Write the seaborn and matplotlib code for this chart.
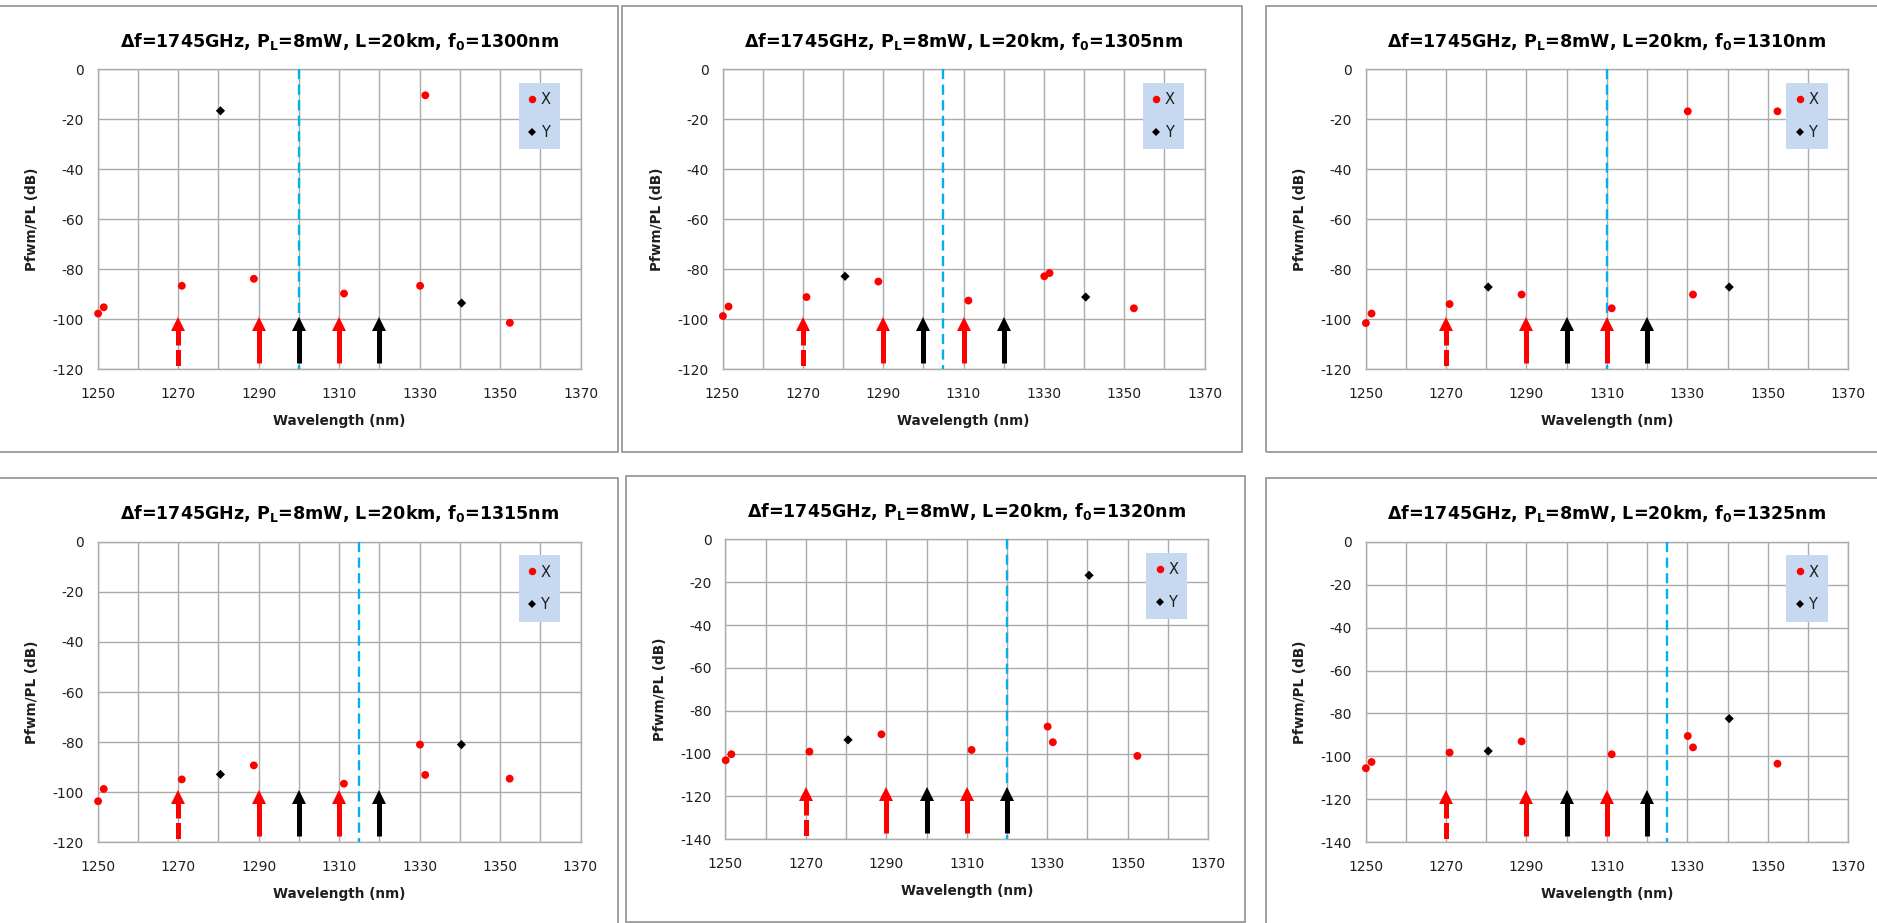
import matplotlib
matplotlib.use("Agg")
import matplotlib.pyplot as plt
import matplotlib.transforms as mtransforms
from matplotlib.patches import Rectangle
from matplotlib.lines import Line2D
import pandas as pd
import seaborn as sns

# ---------------------------------------------------------------------------
# Data
# ---------------------------------------------------------------------------
# Wavelengths (nm) of the generated FWM products, per polarisation
X_WAVELENGTHS = [1250.1, 1251.5, 1270.9, 1288.8, 1311.2, 1330.1, 1331.4, 1352.4]
Y_WAVELENGTHS = [1280.5, 1340.4]

# Zero-dispersion wavelength f0 (nm) of each case
F0_VALUES = [1300, 1305, 1310, 1315, 1320, 1325]

# Normalised FWM power Pfwm/PL (dB), one row per f0 case
X_POWER = [
    [-97.7, -95.2, -86.6, -83.8, -89.7, -86.6, -10.4, -101.4],
    [-98.7, -94.9, -91.1, -84.9, -92.5, -82.8, -81.5, -95.6],
    [-101.5, -97.7, -93.9, -90.1, -95.6, -16.8, -90.1, -16.8],
    [-103.6, -98.7, -94.9, -89.3, -96.6, -81.0, -93.1, -94.6],
    [-103.1, -100.3, -99.1, -91.0, -98.3, -87.4, -94.7, -101.1],
    [-105.5, -102.6, -98.2, -93.0, -99.0, -90.5, -95.8, -103.4],
]
Y_POWER = [
    [-16.6, -93.5],
    [-82.8, -91.1],
    [-87.1, -87.1],
    [-92.9, -81.0],
    [-93.6, -16.8],
    [-97.5, -82.4],
]

# Lower limit of the power axis for each case
Y_MIN = [-120, -120, -120, -120, -140, -140]

# Pump channels: wavelength (nm), polarisation, dashed = unmodulated pump
PUMP_WAVELENGTHS = [1270, 1290, 1300, 1310, 1320]
PUMP_POLARISATION = ["X", "X", "Y", "X", "Y"]
PUMP_DASHED = [True, False, False, False, False]

X_TICKS = [1250, 1270, 1290, 1310, 1330, 1350, 1370]
X_MINOR = [1260, 1280, 1300, 1320, 1340, 1360]

TITLE_PARAMS = r"Δf=1745GHz, P$_\mathregular{L}$=8mW, L=20km, f$_\mathregular{0}$="
X_LABEL = "Wavelength (nm)"
Y_LABEL = "Pfwm/PL (dB)"

SERIES_COLORS = {"X": "#ff0000", "Y": "#000000"}
SERIES_MARKERS = {"X": "o", "Y": "D"}

# ---------------------------------------------------------------------------
# Styling
# ---------------------------------------------------------------------------
sns.set_theme(style="white")
plt.rcParams["font.family"] = ["DejaVu Sans"]
plt.rcParams["axes.unicode_minus"] = False
plt.rcParams["mathtext.fontset"] = "custom"
plt.rcParams["mathtext.rm"] = "DejaVu Sans:bold"
plt.rcParams["mathtext.it"] = "DejaVu Sans:bold"
plt.rcParams["mathtext.bf"] = "DejaVu Sans:bold"

W, H = 1877, 923
fig = plt.figure(figsize=(W / 100, H / 100), dpi=100)
fig.patch.set_facecolor("white")

# plot area (left, top, right, bottom) and panel frame in pixels
PLOT_BOXES = [
    (97.7, 69.3, 580.7, 369.3),
    (722.5, 69.3, 1204.6, 369.3),
    (1365.5, 69.3, 1848.3, 369.3),
    (97.7, 541.7, 580.5, 842.3),
    (725.3, 539.3, 1208.2, 839.3),
    (1365.5, 541.7, 1848.3, 842.3),
]
FRAME_BOXES = [
    (-3, 5.7, 618, 452),
    (622, 5.7, 1242, 452),
    (1265.6, 5.7, 1895, 452),
    (-3, 477.7, 618, 935),
    (626, 475.7, 1245, 921.5),
    (1265.6, 477.7, 1895, 935),
]

GRID_COLOR = "#ababab"
TEXT_COLOR = "#1f1f1f"

for (fl, ft, fr, fb) in FRAME_BOXES:
    fig.patches.append(
        Rectangle((fl / W, 1 - fb / H), (fr - fl) / W, (fb - ft) / H,
                  transform=fig.transFigure, fill=False,
                  edgecolor="#999999", linewidth=1.3, zorder=0)
    )

for i, (l, t, r, b) in enumerate(PLOT_BOXES):
    ax = fig.add_axes([l / W, 1 - b / H, (r - l) / W, (b - t) / H])
    ax.set_facecolor("white")
    ymin = Y_MIN[i]
    f0 = F0_VALUES[i]
    ax_h = b - t
    ax_w = r - l

    df = pd.DataFrame({
        "wavelength": X_WAVELENGTHS + Y_WAVELENGTHS,
        "power": X_POWER[i] + Y_POWER[i],
        "series": ["X"] * len(X_WAVELENGTHS) + ["Y"] * len(Y_WAVELENGTHS),
    })
    sns.scatterplot(
        data=df, x="wavelength", y="power", hue="series", style="series",
        size="series", sizes={"X": 32, "Y": 22},
        palette=SERIES_COLORS, markers=SERIES_MARKERS,
        linewidth=0, legend=False, ax=ax, zorder=6, clip_on=False,
    )

    # zero-dispersion wavelength marker
    ax.plot([f0, f0], [0, ymin], color="#00b0f0", lw=1.7,
            linestyle=(0, (4.3, 2.3)), dash_capstyle="butt",
            clip_on=False, zorder=3)

    # pump arrows: x in data units, height as a fraction of the axes
    trans = mtransforms.blended_transform_factory(ax.transData, ax.transAxes)
    for wl, pol, dashed in zip(PUMP_WAVELENGTHS, PUMP_POLARISATION, PUMP_DASHED):
        c = SERIES_COLORS[pol]
        if dashed:
            # dash pattern starts just below the arrow head
            ax.plot([wl, wl], [0.135, -0.003], transform=trans, color=c, lw=3.6,
                    linestyle=(0, (3.2, 0.9)), dash_capstyle="butt",
                    clip_on=False, zorder=4)
        else:
            ax.plot([wl, wl], [0.02, 0.14], transform=trans, color=c, lw=3.6,
                    solid_capstyle="butt", clip_on=False, zorder=4)
        ax.plot([wl], [0.152], transform=trans, marker="^", ms=9.5,
                color=c, mew=0, linestyle="none", clip_on=False, zorder=4)

    ax.set_xlim(1250, 1370)
    ax.set_ylim(ymin, 0)
    ax.set_xticks(X_TICKS)
    ax.set_xticks(X_MINOR, minor=True)
    ax.set_yticks(list(range(ymin, 1, 20)))
    ax.set_xticklabels([str(v) for v in X_TICKS])
    ax.set_yticklabels([str(v) for v in range(ymin, 1, 20)])
    ax.grid(True, which="both", color=GRID_COLOR, linewidth=1.0, zorder=0)
    ax.set_axisbelow(True)
    for sp in ax.spines.values():
        sp.set_color(GRID_COLOR)
        sp.set_linewidth(1.0)
    ax.tick_params(axis="both", which="both", length=0, labelsize=10,
                   colors=TEXT_COLOR)
    ax.tick_params(axis="x", pad=13)
    ax.tick_params(axis="y", pad=9.9)

    ax.set_xlabel(X_LABEL, fontsize=9.8, fontweight="bold", color=TEXT_COLOR)
    ax.set_ylabel(Y_LABEL, fontsize=9.8, fontweight="bold", color=TEXT_COLOR)
    ax.xaxis.set_label_coords(0.5, -(425 - 369.3) / ax_h)
    ax.xaxis.label.set_va("baseline")
    ax.yaxis.set_label_coords(-(97.7 - 32.4) / ax_w, 0.5)
    ax.yaxis.label.set_va("center")

    ax.text(0.5, 1 + 22.6 / ax_h, TITLE_PARAMS + f"{f0}nm",
            transform=ax.transAxes, ha="center", va="baseline",
            fontsize=12.6, fontweight="bold", color="#000000")

    handles = [
        Line2D([], [], linestyle="none", marker="o", color=SERIES_COLORS["X"],
               ms=5.4, mew=0),
        Line2D([], [], linestyle="none", marker="D", color=SERIES_COLORS["Y"],
               ms=4.4, mew=0),
    ]
    leg = ax.legend(handles, ["X", "Y"], loc="upper right",
                    bbox_to_anchor=(0.957, 0.955), borderaxespad=0,
                    frameon=True, fancybox=False, facecolor="#c6d9f1",
                    edgecolor="none", framealpha=1, fontsize=10.5,
                    handlelength=0.55, handletextpad=0.3, borderpad=0.64,
                    labelspacing=1.22)
    for txt in leg.get_texts():
        txt.set_color(TEXT_COLOR)
    leg.set_zorder(7)

fig.savefig("out.png", dpi=100, facecolor="white")
